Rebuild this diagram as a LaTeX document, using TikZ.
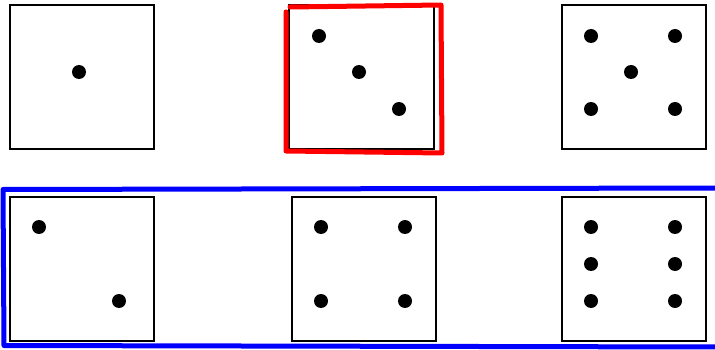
\documentclass[tikz,border=0pt]{standalone}
\begin{document}
\begin{tikzpicture}[x=1pt,y=-1pt,
  diebox/.style={draw=black,line width=1.5pt,fill=white},
  pip/.style={fill=black},
  redmark/.style={draw={rgb,255:red,255;green,0;blue,0},line width=5pt,line cap=round,line join=round},
  bluemark/.style={draw={rgb,255:red,0;green,0;blue,255},line width=5pt,line cap=round,line join=round}]
\useasboundingbox (0,0) rectangle (715,350);
\fill[white] (0,0) rectangle (715,350);
% top row
\draw[diebox] (10,5) rectangle (154,149);
\fill[pip] (79,72) circle (7);
\draw[diebox] (289,5) rectangle (434,149);
\fill[pip] (319,36) circle (7);
\fill[pip] (359,72) circle (7);
\fill[pip] (399,109) circle (7);
\draw[redmark] (290,7) -- (441,5) -- (442,153) -- (286,151) -- (286,12);
\draw[diebox] (562,5) rectangle (706,149);
\fill[pip] (591,36) circle (7);
\fill[pip] (675,36) circle (7);
\fill[pip] (631,72) circle (7);
\fill[pip] (591,109) circle (7);
\fill[pip] (675,109) circle (7);
% bottom row
\draw[bluemark] (718,188) -- (3,189.5) -- (4,345.5) -- (718,347);
\draw[diebox] (10,197) rectangle (154,341);
\fill[pip] (39,227) circle (7);
\fill[pip] (119,301) circle (7);
\draw[diebox] (292,197) rectangle (436,341);
\fill[pip] (321,227) circle (7);
\fill[pip] (405,227) circle (7);
\fill[pip] (321,301) circle (7);
\fill[pip] (405,301) circle (7);
\draw[diebox] (562,197) rectangle (706,341);
\fill[pip] (591,227) circle (7);
\fill[pip] (675,227) circle (7);
\fill[pip] (591,264) circle (7);
\fill[pip] (675,264) circle (7);
\fill[pip] (591,301) circle (7);
\fill[pip] (675,301) circle (7);
\end{tikzpicture}
\end{document}
